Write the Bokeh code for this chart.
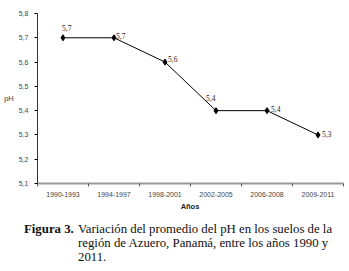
from bokeh.plotting import figure
from bokeh.models import (ColumnDataSource, FixedTicker, CustomJSTickFormatter,
                          LabelSet, Range1d, Div)
from bokeh.layouts import column
from bokeh.embed import file_html
from bokeh.resources import INLINE

periods = ["1990-1993", "1994-1997", "1998-2001", "2002-2005", "2006-2008", "2009-2011"]
ph_values = [5.7, 5.7, 5.6, 5.4, 5.4, 5.3]
y_ticks = [5.1, 5.2, 5.3, 5.4, 5.5, 5.6, 5.7, 5.8]
x_title = "Años"
y_title = "pH"
caption_title = "Figura 3."
caption_lines = ["Variación del promedio del pH en los suelos de la",
                 "región de Azuero, Panamá,  entre los años 1990 y",
                 "2011."]

xs = list(range(1, len(periods) + 1))
labels = [f"{v:.1f}".replace(".", ",") for v in ph_values]
# label placement (style)
lx_off = [-1, 2, 3, -10, 4, 4]
ly_off = [10, 2, 3, 13, 2, 1]

src = ColumnDataSource(dict(x=xs, y=ph_values, lab=labels, xo=lx_off, yo=ly_off))

p = figure(width=349, height=200, output_backend="svg", toolbar_location=None,
           x_range=Range1d(0.5, len(periods) + 0.5), y_range=Range1d(5.1, 5.8),
           min_border_left=37, min_border_right=6, min_border_top=13, min_border_bottom=17)
p.outline_line_color = None
p.grid.grid_line_color = None
p.background_fill_color = "white"
p.border_fill_color = "white"

p.line("x", "y", source=src, line_color="black", line_width=1)
p.scatter("x", "y", source=src, marker="diamond", size=6, color="black")

p.add_layout(LabelSet(x="x", y="y", text="lab", source=src, x_offset="xo", y_offset="yo",
                      text_font_size="7.5px", text_font="Liberation Sans",
                      text_align="left", text_baseline="middle", text_color="#222222"))

# x axis
xa = p.xaxis[0]
xa.ticker = FixedTicker(ticks=xs, minor_ticks=[x + 0.5 for x in range(0, len(periods) + 1)])
xa.major_label_overrides = {x: s for x, s in zip(xs, periods)}
xa.major_tick_in = 0
xa.major_tick_out = 0
xa.minor_tick_in = 0
xa.minor_tick_out = 3
xa.minor_tick_line_color = "#555555"
xa.axis_line_color = "#999999"
xa.axis_line_width = 2
xa.major_label_text_font_size = "7px"
xa.major_label_text_font = "Liberation Sans"
xa.major_label_standoff = 5

ya = p.yaxis[0]
ya.ticker = FixedTicker(ticks=y_ticks, minor_ticks=[])
ya.formatter = CustomJSTickFormatter(code="return tick.toFixed(1).replace('.', ',');")
ya.major_tick_in = 0
ya.major_tick_out = 3
ya.axis_line_color = "#333333"
ya.major_label_text_font_size = "7px"
ya.major_label_text_font = "Liberation Sans"
ya.major_label_standoff = 6
ya.axis_label = y_title
ya.axis_label_orientation = "horizontal"
ya.axis_label_text_font_size = "7.5px"
ya.axis_label_text_font = "Liberation Sans"
ya.axis_label_text_font_style = "normal"
ya.axis_label_standoff = 2

# x-axis title and caption below the chart (HTML text)
cap_html = (
    "<div style=\"position:relative;width:349px;height:71px;"
    "font-family:'Liberation Serif',serif;font-size:12.8px;color:#111111;\">"
    "<span style=\"position:absolute;left:160px;width:60px;top:0px;line-height:14px;"
    "text-align:center;font-family:'Liberation Sans',sans-serif;font-size:7.5px;"
    "font-weight:bold;color:#222222;\">" + x_title + "</span>"
    "<span style=\"position:absolute;left:24px;top:22px;line-height:14px;"
    "font-weight:bold;white-space:nowrap;\">" + caption_title + "</span>"
    "<div style=\"position:absolute;left:78px;top:22px;line-height:14px;"
    "white-space:nowrap;\">" + "<br>".join(caption_lines) + "</div></div>"
)
cap = Div(text=cap_html, width=349, height=71, margin=(0, 0, 0, 0))

layout = column(p, cap, spacing=0)
open("out.html", "w").write(file_html(layout, INLINE))
